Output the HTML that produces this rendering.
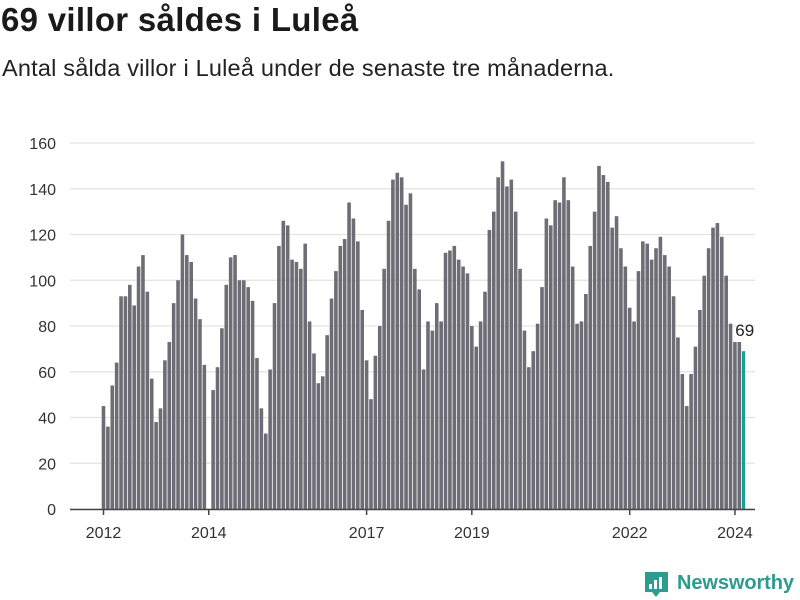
<!DOCTYPE html>
<html><head><meta charset="utf-8"><style>
body{margin:0;width:800px;height:600px;background:#fff;font-family:"Liberation Sans","DejaVu Sans",sans-serif;overflow:hidden;position:relative}
#title{position:absolute;left:1px;top:1px;font-size:33px;font-weight:bold;color:#1a1a1a;letter-spacing:0.3px}
#sub{position:absolute;left:2px;top:55px;font-size:23.5px;color:#222;letter-spacing:0.2px}
svg{position:absolute;left:0;top:0}
</style></head><body>
<div id="title">69 villor såldes i Luleå</div>
<div id="sub">Antal sålda villor i Luleå under de senaste tre månaderna.</div>
<svg id="c" width="800" height="600"></svg>
<script>
const values=[45,36,54,64,93,93,98,89,106,111,95,57,38,44,65,73,90,100,120,111,108,92,83,63,
0,52,62,79,98,110,111,100,100,97,91,66,44,33,61,90,115,126,124,109,108,105,116,82,
68,55,58,76,92,104,115,118,134,127,117,87,65,48,67,80,105,126,144,147,145,133,138,105,
96,61,82,78,90,82,112,113,115,109,106,103,80,71,82,95,122,130,145,152,141,144,130,105,
78,62,69,81,97,127,124,135,134,145,135,106,81,82,94,115,130,150,146,143,123,128,114,106,
88,82,104,117,116,109,114,119,111,106,93,75,59,45,59,71,87,102,114,123,125,119,102,81,
73,73,69];
const yTicks=[0,20,40,60,80,100,120,140,160];
const xTickLabels=["2012","2014","2017","2019","2022","2024"];
const xTickIndex=[0,24,60,84,120,144];
const ns="http://www.w3.org/2000/svg",svg=document.getElementById('c');
const y=v=>509-v*366/160, x=i=>103.5+i*4.385;
function mk(t,a){const e=document.createElementNS(ns,t);for(const k in a)e.setAttribute(k,a[k]);svg.appendChild(e);return e;}
yTicks.forEach(t=>{
  const g=mk('line',{x1:70,x2:755,y1:y(t),y2:y(t),stroke:'#e3e3e3','stroke-width':1.3});
  
  
  const l=mk('text',{x:56,y:y(t)+6,'text-anchor':'end','font-size':16,fill:'#333'});l.textContent=t;
  
  
});
values.forEach((v,i)=>{
  const last=i===values.length-1;
  const b=mk('rect',{x:x(i)-1.8,y:y(v),width:last?3.2:3.6,height:509-y(v),fill:last?'#16a096':'#6e6d75'});
  
  
});
const ax=mk('line',{x1:70,x2:755,y1:509.5,y2:509.5,stroke:'#444','stroke-width':1.5});


xTickLabels.forEach((lab,k)=>{
  const xi=x(xTickIndex[k]);
  const t=mk('line',{x1:xi,x2:xi,y1:509,y2:515,stroke:'#444','stroke-width':1.5});
  
  
  const l=mk('text',{x:xi,y:538,'text-anchor':'middle','font-size':16,fill:'#333'});l.textContent=lab;
  
  
});
const li=values.length-1;
const vl=mk('text',{x:x(li)+1,y:y(values[li])-15,'text-anchor':'middle','font-size':17,fill:'#222'});vl.textContent=values[li];


const logo=mk('g',{});


const ic=document.createElementNS(ns,'path');ic.setAttribute('d','M645 572 h23 v20 h-8 l-4 5 l-4 -5 h-7 z');ic.setAttribute('fill','#2a9d8f');logo.appendChild(ic);
[[649,584,3,5],[654,580,3,9],[659,577,3,12]].forEach(r=>{const e=document.createElementNS(ns,'rect');e.setAttribute('x',r[0]);e.setAttribute('y',r[1]);e.setAttribute('width',r[2]);e.setAttribute('height',r[3]);e.setAttribute('fill','#fff');logo.appendChild(e);});
const lt=document.createElementNS(ns,'text');lt.setAttribute('x',677);lt.setAttribute('y',589);lt.setAttribute('font-size',20);lt.setAttribute('font-weight','bold');lt.setAttribute('textLength',117);lt.setAttribute('fill','#2a9d8f');lt.textContent='Newsworthy';logo.appendChild(lt);
</script>
</body></html>
